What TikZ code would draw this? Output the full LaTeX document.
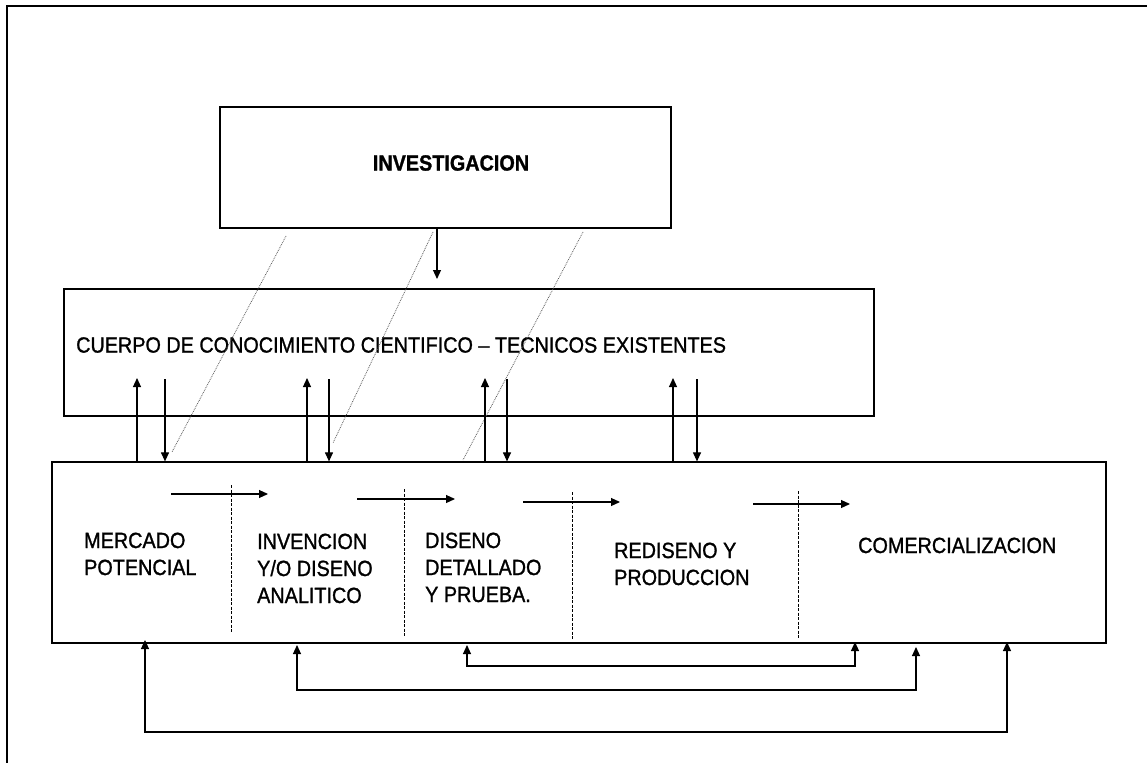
\documentclass[tikz,border=0pt]{standalone}
\usepackage{fontspec}
\setmainfont{Liberation Sans}[FakeStretch=0.9, FakeBold=1.2]
\usetikzlibrary{arrows.meta}
\begin{document}
\begin{tikzpicture}[x=1pt,y=-1pt,
  box/.style={draw=black, line width=1.2pt, inner sep=0pt, rectangle},
  lbl/.style={font=\fontsize{22}{27}\selectfont, inner sep=0pt, align=left},
  flow/.style={line width=1.1pt, -{Triangle[length=9pt,width=8pt]}},
  loop/.style={line width=1.1pt, {Triangle[length=9pt,width=8pt]}-{Triangle[length=9pt,width=8pt]}},
  link/.style={draw=black!65, line width=0.8pt, densely dotted},
  stage/.style={line width=0.8pt, dash pattern=on 3pt off 1.5pt}]
\useasboundingbox (0,0) rectangle (1147,762);

% outer frame (runs off the page on the right and bottom)
\draw[line width=2pt] (7,770) -- (7,6) -- (1155,6);

% the three blocks
\node[box, minimum width=451pt, minimum height=121pt] (inv) at (445.5,167.5) {};
\node[box, minimum width=810pt, minimum height=127pt] (cuerpo) at (469,352.5) {};
\node[box, minimum width=1054pt, minimum height=181pt] (proc) at (579,552.5) {};

% block titles
\node[lbl, font=\fontsize{22}{27}\selectfont\bfseries] (invt) at (451,163) {INVESTIGACION};
\node[lbl, anchor=west] (cuerpot) at (76,345) {CUERPO DE CONOCIMIENTO CIENTIFICO – TECNICOS EXISTENTES};

% stage labels (anchored on the baseline of their last line)
\node[lbl, anchor=base west] (merc) at (84,575) {MERCADO\\POTENCIAL};
\node[lbl, anchor=base west] (inven) at (257,603) {INVENCION\\Y/O DISENO\\ANALITICO};
\node[lbl, anchor=base west] (dise) at (425,602) {DISENO\\DETALLADO\\Y PRUEBA.};
\node[lbl, anchor=base west] (redis) at (614,585) {REDISENO Y\\PRODUCCION};
\node[lbl, anchor=base west] (comer) at (858,553) {COMERCIALIZACION};

% research feeds the body of knowledge
\coordinate (invdn) at (437,279);
\draw[flow] (invdn |- inv.south) -- (invdn);

% dotted links from research down to the process
\coordinate (l1a) at (286,236); \coordinate (l1b) at (172,452);
\coordinate (l2a) at (433,232); \coordinate (l2b) at (333,443);
\coordinate (l3a) at (583,232); \coordinate (l3b) at (463,460);
\draw[link] (l1a) -- (l1b);
\draw[link] (l2a) -- (l2b);
\draw[link] (l3a) -- (l3b);

% exchanges between the body of knowledge and the process
\foreach \n/\u/\d in {1/137/165, 2/307/329, 3/485/507, 4/673/697}{
  \coordinate (up\n) at (\u,378);
  \coordinate (dn\n) at (\d,379);
  \draw[flow] (up\n |- proc.north) -- (up\n);
  \draw[flow] (dn\n) -- (dn\n |- proc.north);
}

% stage separators
\foreach \n/\x/\ya/\yb in {1/231/485/633, 2/404/489/637, 3/572/492/640, 4/798/491/639}{
  \coordinate (s\n a) at (\x,\ya);
  \coordinate (s\n b) at (\x,\yb);
  \draw[stage] (s\n a) -- (s\n b);
}

% forward flow between stages
\foreach \n/\xa/\xb/\y in {1/171/268/494, 2/357/455/499, 3/523/620/502, 4/753/850/504}{
  \coordinate (f\n a) at (\xa,\y);
  \coordinate (f\n b) at (\xb,\y);
  \draw[flow] (f\n a) -- (f\n b);
}

% feedback loops under the process
\coordinate (r1a) at (1007,642); \coordinate (r1b) at (145,640); \coordinate (r1y) at (0,732);
\coordinate (r2a) at (916,647);  \coordinate (r2b) at (297,645); \coordinate (r2y) at (0,690);
\coordinate (r3a) at (855,642);  \coordinate (r3b) at (467,645); \coordinate (r3y) at (0,666);
\draw[loop] (r1a) -- (r1a |- r1y) -- (r1b |- r1y) -- (r1b);
\draw[loop] (r2a) -- (r2a |- r2y) -- (r2b |- r2y) -- (r2b);
\draw[loop] (r3a) -- (r3a |- r3y) -- (r3b |- r3y) -- (r3b);
\end{tikzpicture}
\end{document}
